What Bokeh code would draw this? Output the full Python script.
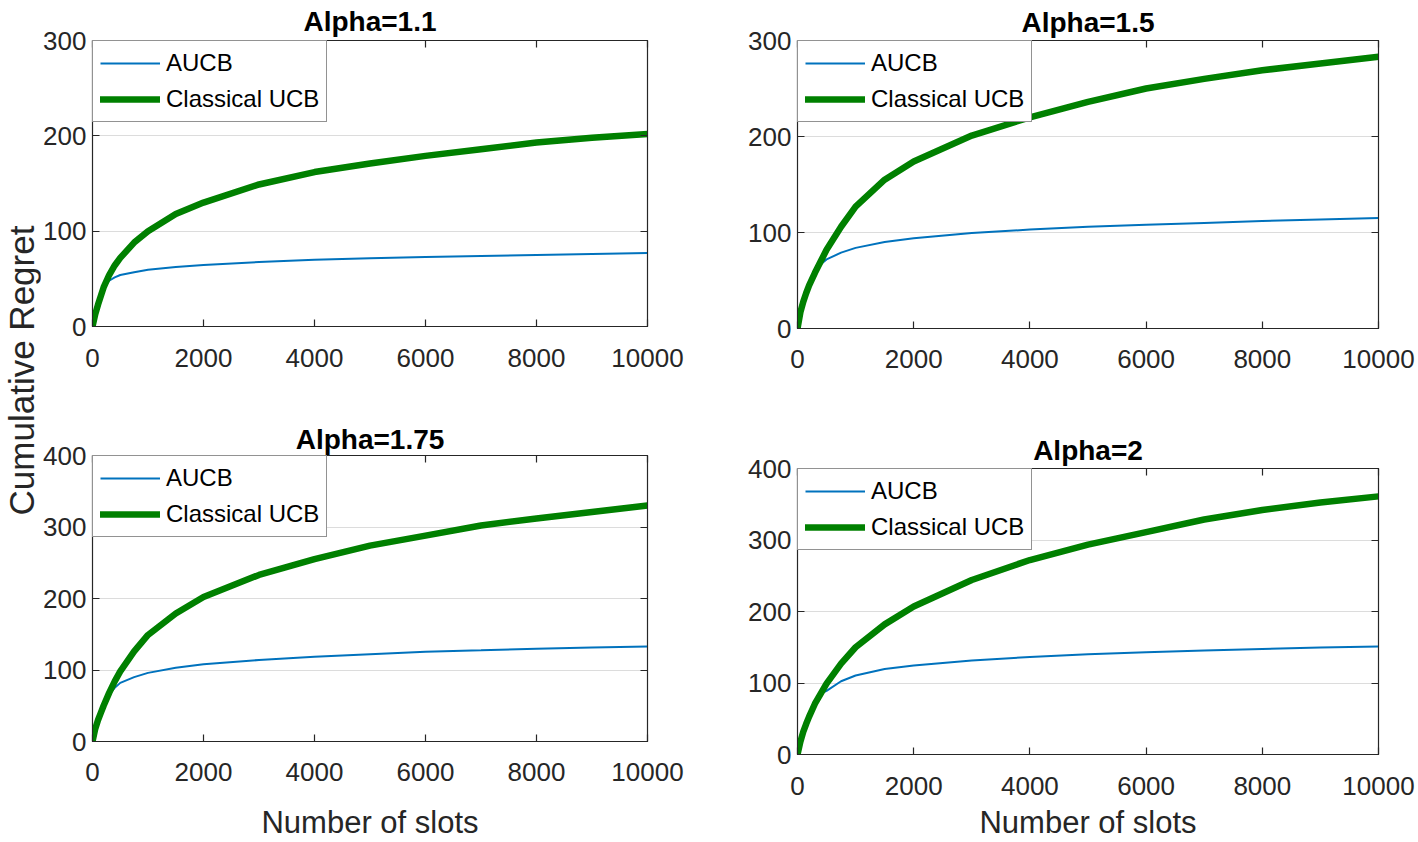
from bokeh.plotting import figure
from bokeh.models import Range1d, FixedTicker, LinearAxis
from bokeh.layouts import row, column
from bokeh.embed import file_html
from bokeh.resources import INLINE

# ---------------- data ----------------
slots = [0, 50, 100, 150, 200, 300, 400, 500, 750, 1000, 1500, 2000, 3000, 4000,
         5000, 6000, 7000, 8000, 9000, 10000]

titles = ["Alpha=1.1", "Alpha=1.5", "Alpha=1.75", "Alpha=2"]

ucb_a11 = [0, 13, 23, 32, 41, 54, 64, 72, 88, 100, 118, 130, 149, 162, 171, 179, 186, 193, 198, 202]
aucb_a11 = [0, 13, 23, 32, 41, 48, 51.5, 54, 57, 59.5, 62.3, 64.6, 67.6, 70, 71.6, 73, 74, 75, 76, 77]

ucb_a15 = [0, 17, 28, 37, 45, 58, 70, 82, 106, 127, 155, 174, 201, 220, 236, 250, 260, 269, 276, 283]
aucb_a15 = [0, 17, 28, 37, 45, 58, 67, 72, 79, 84, 90, 94, 99.5, 103, 106, 108, 110, 112, 113.5, 115]

ucb_a175 = [0, 18, 30, 40, 50, 68, 84, 98, 126, 149, 179, 202, 233, 255, 274, 288, 302, 312, 321, 330]
aucb_a175 = [0, 18, 30, 40, 50, 66, 75, 82, 90, 96, 103, 108, 114, 118.5, 122, 125.5, 127.5, 129.7, 131.5, 133]

ucb_a2 = [0, 18, 32, 43, 53, 71, 85, 99, 127, 150, 182, 207, 244, 272, 293.5, 311, 328.6, 342, 352.5, 361]
aucb_a2 = [0, 18, 32, 43, 53, 71, 85, 89, 102.5, 110.5, 119.5, 124.5, 131.5, 136.5, 140.3, 143, 145.3, 147.5, 149.5, 151]

x_ticks = [0, 2000, 4000, 6000, 8000, 10000]
y_ticks_300 = [0, 100, 200, 300]
y_ticks_400 = [0, 100, 200, 300, 400]

FONT = "Liberation Sans"
DARK = "#262626"
BLUE = "#0072BD"
GREEN = "#008000"


def style_axis(ax, ticker, labels=True):
    ax.ticker = FixedTicker(ticks=ticker)
    ax.major_tick_in = 7
    ax.major_tick_out = 0
    ax.minor_tick_line_color = None
    ax.axis_line_color = DARK
    ax.axis_line_width = 1
    ax.major_tick_line_color = DARK
    ax.major_tick_line_width = 1.2
    ax.major_label_text_font = FONT
    ax.major_label_text_font_size = "26px"
    ax.major_label_text_color = DARK
    if not labels:
        ax.major_label_text_color = None
        ax.major_label_standoff = 0
        ax.major_label_text_font_size = "1px"


def make_panel(title, ymax, yticks, blue, green, fig_w, fig_h, fl, fw, ft, fh,
               title_standoff, xtick_standoff, xlabel=None, xlabel_standoff=10):
    p = figure(width=fig_w, height=fig_h,
               x_range=Range1d(0, 10000), y_range=Range1d(0, ymax),
               output_backend="svg", toolbar_location=None,
               min_border_left=fl, min_border_right=fig_w - fl - fw,
               min_border_top=ft, min_border_bottom=fig_h - ft - fh)
    p.background_fill_color = "white"
    p.border_fill_color = "white"
    p.outline_line_color = DARK
    p.outline_line_width = 1.2

    bottom = p.below[0]
    left = p.left[0]
    style_axis(bottom, x_ticks)
    bottom.major_label_standoff = xtick_standoff
    style_axis(left, yticks)
    left.major_label_standoff = 6

    top = LinearAxis()
    style_axis(top, x_ticks, labels=False)
    p.add_layout(top, "above")
    right = LinearAxis()
    style_axis(right, yticks, labels=False)
    p.add_layout(right, "right")

    p.xgrid.visible = False
    p.ygrid.grid_line_color = "#dcdcdc"
    p.ygrid.grid_line_width = 1.2

    p.title.text = title
    p.title.align = "center"
    p.title.text_font = FONT
    p.title.text_font_size = "28px"
    p.title.text_font_style = "bold"
    p.title.text_color = "black"
    p.title.standoff = title_standoff

    if xlabel:
        bottom.axis_label = xlabel
        bottom.axis_label_text_font = FONT
        bottom.axis_label_text_font_size = "31px"
        bottom.axis_label_text_font_style = "normal"
        bottom.axis_label_text_color = DARK
        bottom.axis_label_standoff = xlabel_standoff

    p.line(slots, blue, line_color=BLUE, line_width=2, legend_label="AUCB")
    p.line(slots, green, line_color=GREEN, line_width=6.5, line_cap="round",
           line_join="round", legend_label="Classical UCB")

    lg = p.legend[0]
    lg.location = "top_left"
    lg.margin = 0
    lg.padding = 7
    lg.spacing = 6
    lg.label_height = 30
    lg.glyph_height = 30
    lg.glyph_width = 60
    lg.label_standoff = 6
    lg.label_text_font = FONT
    lg.label_text_font_size = "24px"
    lg.label_text_color = "black"
    lg.border_line_color = DARK
    lg.border_line_width = 1.2
    lg.background_fill_alpha = 1.0
    return p


TOTAL_H = 842
TOP_H = 400
BOT_H = TOTAL_H - TOP_H
LAB_W = 40

# narrow figure that only carries the shared y-axis label
lab = figure(width=LAB_W, height=TOTAL_H, x_range=Range1d(0, 1),
             y_range=Range1d(0, 1), output_backend="svg",
             toolbar_location=None, x_axis_location=None,
             min_border_left=0, min_border_right=0,
             min_border_top=230, min_border_bottom=TOTAL_H - 510)
lab.outline_line_color = None
lab.grid.visible = False
lab.background_fill_color = None
lab_ax = lab.left[0]
lab_ax.ticker = FixedTicker(ticks=[])
lab_ax.axis_line_color = None
lab_ax.major_tick_line_color = None
lab_ax.minor_tick_line_color = None
lab_ax.major_label_standoff = 0
lab_ax.axis_label = "Cumulative Regret"
lab_ax.axis_label_standoff = 0
lab_ax.axis_label_text_font = FONT
lab_ax.axis_label_text_font_size = "35px"
lab_ax.axis_label_text_font_style = "normal"
lab_ax.axis_label_text_color = DARK

f1 = make_panel(titles[0], 300, y_ticks_300, aucb_a11, ucb_a11,
                660, TOP_H, 50, 557, 37, 289, 7, 22)
f2 = make_panel(titles[1], 300, y_ticks_300, aucb_a15, ucb_a15,
                718, TOP_H, 95, 587, 40, 288, 5, 21)
f3 = make_panel(titles[2], 400, y_ticks_400, aucb_a175, ucb_a175,
                660, BOT_H, 50, 557, 55, 288, 1, 21,
                xlabel="Number of slots", xlabel_standoff=21)
f4 = make_panel(titles[3], 400, y_ticks_400, aucb_a2, ucb_a2,
                718, BOT_H, 97, 581, 68, 288, 5, 22,
                xlabel="Number of slots", xlabel_standoff=7)

layout = row(lab, column(f1, f3), column(f2, f4))

open("out.html", "w").write(file_html(layout, INLINE))
